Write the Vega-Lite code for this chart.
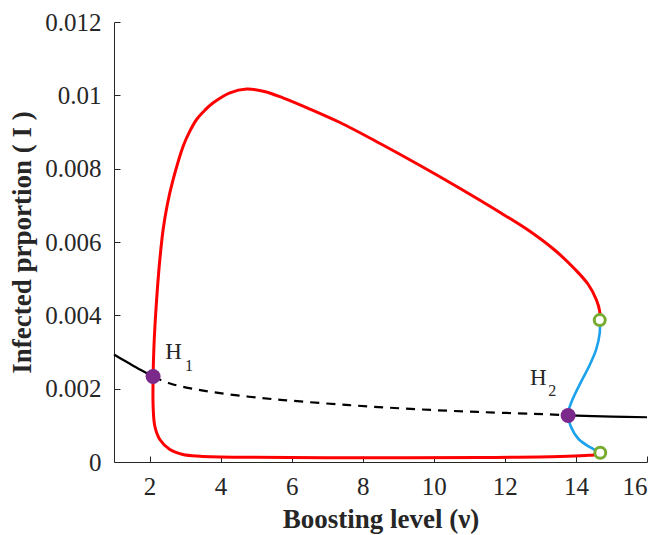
{
  "$schema": "https://vega.github.io/schema/vega-lite/v6.json",
  "width": 533,
  "height": 440,
  "autosize": {"type": "none"},
  "padding": {"left": 114, "top": 22, "right": 15, "bottom": 73},
  "background": "white",
  "config": {
    "view": {"stroke": null},
    "font": "Liberation Serif",
    "axis": {
      "domainColor": "#262626",
      "domainWidth": 1,
      "tickColor": "#262626",
      "tickSize": -6,
      "tickWidth": 1,
      "labelFont": "Liberation Serif",
      "labelFontSize": 25,
      "labelColor": "#262626",
      "labelPadding": 18,
      "titleFont": "Liberation Serif",
      "titleFontSize": 27,
      "titleFontWeight": "bold",
      "titleColor": "#262626",
      "grid": false
    }
  },
  "datasets": {
    "curves": [
      {"series": "stableA", "order": 1, "nu": 1.0, "I": 0.00293},
      {"series": "stableA", "order": 2, "nu": 1.3, "I": 0.00276},
      {"series": "stableA", "order": 3, "nu": 1.55, "I": 0.00262},
      {"series": "stableA", "order": 4, "nu": 1.85, "I": 0.00246},
      {"series": "stableA", "order": 5, "nu": 2.1, "I": 0.00233},
      {"series": "unstable", "order": 1, "nu": 2.1, "I": 0.00233},
      {"series": "unstable", "order": 2, "nu": 2.58, "I": 0.00214},
      {"series": "unstable", "order": 3, "nu": 3.2, "I": 0.00200},
      {"series": "unstable", "order": 4, "nu": 3.89, "I": 0.00189},
      {"series": "unstable", "order": 5, "nu": 4.8, "I": 0.00178},
      {"series": "unstable", "order": 6, "nu": 5.76, "I": 0.00169},
      {"series": "unstable", "order": 7, "nu": 7.63, "I": 0.00155},
      {"series": "unstable", "order": 8, "nu": 9.5, "I": 0.00144},
      {"series": "unstable", "order": 9, "nu": 11.37, "I": 0.00136},
      {"series": "unstable", "order": 10, "nu": 13.24, "I": 0.00130},
      {"series": "unstable", "order": 11, "nu": 13.78, "I": 0.00127},
      {"series": "stableB", "order": 1, "nu": 13.78, "I": 0.00127},
      {"series": "stableB", "order": 2, "nu": 15.0, "I": 0.00124},
      {"series": "stableB", "order": 3, "nu": 16.0, "I": 0.00122},
      {"series": "stablecycle", "order": 1, "nu": 14.67, "I": 0.00387},
      {"series": "stablecycle", "order": 2, "nu": 14.67, "I": 0.0041},
      {"series": "stablecycle", "order": 3, "nu": 14.572, "I": 0.004432},
      {"series": "stablecycle", "order": 4, "nu": 14.347, "I": 0.004841},
      {"series": "stablecycle", "order": 5, "nu": 13.98, "I": 0.00525},
      {"series": "stablecycle", "order": 6, "nu": 13.417, "I": 0.005768},
      {"series": "stablecycle", "order": 7, "nu": 12.713, "I": 0.006286},
      {"series": "stablecycle", "order": 8, "nu": 11.868, "I": 0.006804},
      {"series": "stablecycle", "order": 9, "nu": 10.741, "I": 0.007459},
      {"series": "stablecycle", "order": 10, "nu": 9.614, "I": 0.008086},
      {"series": "stablecycle", "order": 11, "nu": 8.488, "I": 0.008686},
      {"series": "stablecycle", "order": 12, "nu": 7.361, "I": 0.009259},
      {"series": "stablecycle", "order": 13, "nu": 6.515, "I": 0.009627},
      {"series": "stablecycle", "order": 14, "nu": 5.755, "I": 0.009933},
      {"series": "stablecycle", "order": 15, "nu": 5.2, "I": 0.010113},
      {"series": "stablecycle", "order": 16, "nu": 4.732, "I": 0.010172},
      {"series": "stablecycle", "order": 17, "nu": 4.262, "I": 0.010069},
      {"series": "stablecycle", "order": 18, "nu": 3.792, "I": 0.009796},
      {"series": "stablecycle", "order": 19, "nu": 3.558, "I": 0.009594},
      {"series": "stablecycle", "order": 20, "nu": 3.324, "I": 0.009341},
      {"series": "stablecycle", "order": 21, "nu": 3.135, "I": 0.009022},
      {"series": "stablecycle", "order": 22, "nu": 2.946, "I": 0.008613},
      {"series": "stablecycle", "order": 23, "nu": 2.665, "I": 0.007705},
      {"series": "stablecycle", "order": 24, "nu": 2.501, "I": 0.007023},
      {"series": "stablecycle", "order": 25, "nu": 2.383, "I": 0.006341},
      {"series": "stablecycle", "order": 26, "nu": 2.29, "I": 0.005523},
      {"series": "stablecycle", "order": 27, "nu": 2.22, "I": 0.004705},
      {"series": "stablecycle", "order": 28, "nu": 2.163, "I": 0.003886},
      {"series": "stablecycle", "order": 29, "nu": 2.121, "I": 0.003068},
      {"series": "stablecycle", "order": 30, "nu": 2.101, "I": 0.002332},
      {"series": "stablecycle", "order": 31, "nu": 2.101, "I": 0.001522},
      {"series": "stablecycle", "order": 32, "nu": 2.149, "I": 0.000976},
      {"series": "stablecycle", "order": 33, "nu": 2.29, "I": 0.000614},
      {"series": "stablecycle", "order": 34, "nu": 2.572, "I": 0.000341},
      {"series": "stablecycle", "order": 35, "nu": 2.938, "I": 0.000205},
      {"series": "stablecycle", "order": 36, "nu": 3.417, "I": 0.000158},
      {"series": "stablecycle", "order": 37, "nu": 4.825, "I": 0.000128},
      {"series": "stablecycle", "order": 38, "nu": 7.924, "I": 0.000115},
      {"series": "stablecycle", "order": 39, "nu": 11.304, "I": 0.000123},
      {"series": "stablecycle", "order": 40, "nu": 13.558, "I": 0.00015},
      {"series": "stablecycle", "order": 41, "nu": 14.262, "I": 0.000177},
      {"series": "stablecycle", "order": 42, "nu": 14.592, "I": 0.000205},
      {"series": "stablecycle", "order": 43, "nu": 14.685, "I": 0.000251},
      {"series": "unstablecycle", "order": 1, "nu": 14.67, "I": 0.00387},
      {"series": "unstablecycle", "order": 2, "nu": 14.67, "I": 0.00352},
      {"series": "unstablecycle", "order": 3, "nu": 14.57, "I": 0.00307},
      {"series": "unstablecycle", "order": 4, "nu": 14.37, "I": 0.00261},
      {"series": "unstablecycle", "order": 5, "nu": 14.13, "I": 0.00216},
      {"series": "unstablecycle", "order": 6, "nu": 13.9, "I": 0.0017},
      {"series": "unstablecycle", "order": 7, "nu": 13.8, "I": 0.00143},
      {"series": "unstablecycle", "order": 8, "nu": 13.78, "I": 0.00127},
      {"series": "unstablecycle", "order": 9, "nu": 13.85, "I": 0.00098},
      {"series": "unstablecycle", "order": 10, "nu": 14.08, "I": 0.00062},
      {"series": "unstablecycle", "order": 11, "nu": 14.42, "I": 0.00039},
      {"series": "unstablecycle", "order": 12, "nu": 14.685, "I": 0.000251}
    ],
    "hopf": [
      {"name": "H1", "nu": 2.1, "I": 0.00233},
      {"name": "H2", "nu": 13.78, "I": 0.00127}
    ],
    "fold": [
      {"name": "LPC upper", "nu": 14.67, "I": 0.00387},
      {"name": "LPC lower", "nu": 14.685, "I": 0.000251}
    ],
    "labels": [
      {"part": "main", "text": "H", "nu": 2.44, "I": 0.0028},
      {"part": "sub", "text": "1", "nu": 3.0, "I": 0.00247},
      {"part": "main", "text": "H", "nu": 12.71, "I": 0.00211},
      {"part": "sub", "text": "2", "nu": 13.22, "I": 0.00179}
    ]
  },
  "encoding": {
    "x": {
      "field": "nu", "type": "quantitative",
      "scale": {"domain": [1, 16], "nice": false, "zero": false},
      "axis": {"title": "Boosting level (ν)", "values": [2, 4, 6, 8, 10, 12, 14, 16], "titlePadding": 7}
    },
    "y": {
      "field": "I", "type": "quantitative",
      "scale": {"domain": [0, 0.012], "nice": false},
      "axis": {"title": "Infected prportion ( I )", "values": [0, 0.002, 0.004, 0.006, 0.008, 0.01, 0.012], "format": "~f", "titlePadding": 8, "labelPadding": 19}
    }
  },
  "layer": [
    {
      "data": {"name": "curves"},
      "transform": [{"filter": "datum.series === 'stableA' || datum.series === 'stableB'"}],
      "mark": {"type": "line", "color": "#000000", "strokeWidth": 2.2, "interpolate": "catmull-rom"},
      "encoding": {"detail": {"field": "series"}, "order": {"field": "order"}}
    },
    {
      "data": {"name": "curves"},
      "transform": [{"filter": "datum.series === 'unstable'"}],
      "mark": {"type": "line", "color": "#000000", "strokeWidth": 2.2, "strokeDash": [9, 7], "interpolate": "catmull-rom"},
      "encoding": {"order": {"field": "order"}}
    },
    {
      "data": {"name": "curves"},
      "transform": [{"filter": "datum.series === 'stablecycle'"}],
      "mark": {"type": "line", "color": "#FF0000", "strokeWidth": 3, "interpolate": "catmull-rom"},
      "encoding": {"order": {"field": "order"}}
    },
    {
      "data": {"name": "curves"},
      "transform": [{"filter": "datum.series === 'unstablecycle'"}],
      "mark": {"type": "line", "color": "#1AA2EC", "strokeWidth": 2.6, "interpolate": "catmull-rom"},
      "encoding": {"order": {"field": "order"}}
    },
    {
      "data": {"name": "fold"},
      "mark": {"type": "point", "shape": "circle", "filled": false, "fill": "white", "fillOpacity": 1, "stroke": "#77AC30", "strokeWidth": 3, "size": 120, "opacity": 1}
    },
    {
      "data": {"name": "hopf"},
      "mark": {"type": "point", "shape": "circle", "filled": true, "color": "#7B2A8C", "size": 225, "opacity": 1}
    },
    {
      "data": {"name": "labels"},
      "transform": [{"filter": "datum.part === 'main'"}],
      "mark": {"type": "text", "align": "left", "baseline": "alphabetic", "fontSize": 23, "font": "Liberation Serif", "color": "#262626"},
      "encoding": {"text": {"field": "text"}}
    },
    {
      "data": {"name": "labels"},
      "transform": [{"filter": "datum.part === 'sub'"}],
      "mark": {"type": "text", "align": "left", "baseline": "alphabetic", "fontSize": 16, "font": "Liberation Serif", "color": "#262626"},
      "encoding": {"text": {"field": "text"}}
    }
  ]
}
